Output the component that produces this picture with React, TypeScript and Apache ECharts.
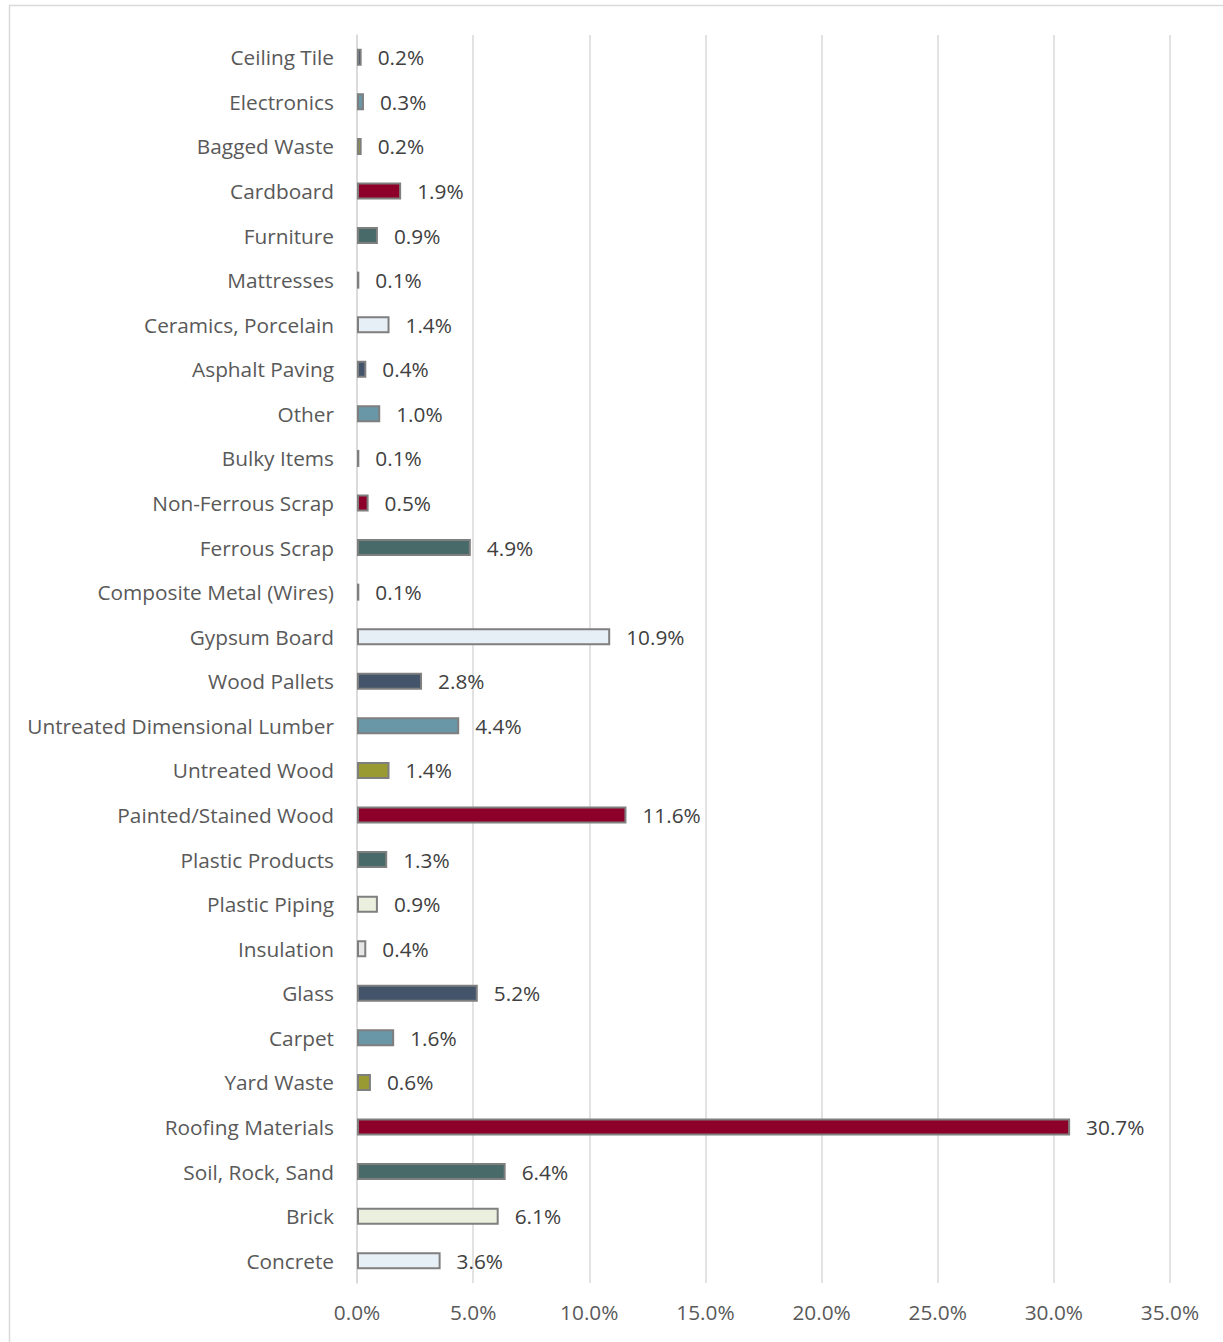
import React, { useEffect, useRef } from "react";
import * as echarts from "echarts";

const categories = [
  "Ceiling Tile",
  "Electronics",
  "Bagged Waste",
  "Cardboard",
  "Furniture",
  "Mattresses",
  "Ceramics, Porcelain",
  "Asphalt Paving",
  "Other",
  "Bulky Items",
  "Non-Ferrous Scrap",
  "Ferrous Scrap",
  "Composite Metal (Wires)",
  "Gypsum Board",
  "Wood Pallets",
  "Untreated Dimensional Lumber",
  "Untreated Wood",
  "Painted/Stained Wood",
  "Plastic Products",
  "Plastic Piping",
  "Insulation",
  "Glass",
  "Carpet",
  "Yard Waste",
  "Roofing Materials",
  "Soil, Rock, Sand",
  "Brick",
  "Concrete",
];

const values = [
  0.2, 0.3, 0.2, 1.9, 0.9, 0.1, 1.4, 0.4, 1.0, 0.1, 0.5, 4.9, 0.1, 10.9, 2.8,
  4.4, 1.4, 11.6, 1.3, 0.9, 0.4, 5.2, 1.6, 0.6, 30.7, 6.4, 6.1, 3.6,
];

const NAVY = "#44546A";
const STEEL = "#6997A8";
const OLIVE = "#9A9A33";
const RED = "#8C0029";
const TEAL = "#486B69";
const CREAM = "#EBF0DE";
const LIGHTBLUE = "#E7EFF6";
const LIGHTGRAY = "#E6E6E6";

const barColors = [
  NAVY, STEEL, OLIVE, RED, TEAL, CREAM, LIGHTBLUE, NAVY, STEEL, OLIVE, RED,
  TEAL, CREAM, LIGHTBLUE, NAVY, STEEL, OLIVE, RED, TEAL, CREAM, LIGHTGRAY,
  NAVY, STEEL, OLIVE, RED, TEAL, CREAM, LIGHTBLUE,
];

const xTicks = { min: 0, max: 35, interval: 5 };

const FONT = "Open Sans";
const FS = 20.8;

export default function App() {
  const ref = useRef<HTMLDivElement>(null);
  useEffect(() => {
    document.body.style.margin = "0";
    if (!ref.current) return;
    const chart = echarts.init(ref.current, null, { renderer: "svg" });
    chart.setOption({
      animation: false,
      backgroundColor: "#FFFFFF",
      textStyle: { fontFamily: FONT },
      graphic: [
        {
          type: "rect",
          shape: { x: 9.5, y: 5.5, width: 1230, height: 1350 },
          style: { fill: "none", stroke: "#D9D9D9", lineWidth: 1.5 },
          silent: true,
        },
      ],
      grid: { left: 357, right: 53, top: 35, bottom: 59 },
      xAxis: {
        type: "value",
        min: xTicks.min,
        max: xTicks.max,
        interval: xTicks.interval,
        axisLine: { show: false },
        axisTick: { show: false },
        splitLine: { show: true, lineStyle: { color: "#D9D9D9", width: 1.5 } },
        axisLabel: {
          color: "#595959",
          fontSize: FS,
          fontFamily: FONT,
          margin: 18,
          formatter: (v: number) => v.toFixed(1) + "%",
        },
      },
      yAxis: {
        type: "category",
        inverse: true,
        data: categories,
        axisLine: { show: true, lineStyle: { color: "#D9D9D9", width: 1.5 } },
        axisTick: { show: false },
        axisLabel: {
          color: "#595959",
          fontSize: FS,
          fontFamily: FONT,
          margin: 23,
        },
      },
      series: [
        {
          type: "bar",
          barWidth: 17,
          data: values.map((v, i) => ({
            value: v,
            itemStyle: {
              color: barColors[i],
              borderColor: "#7F7F7F",
              borderWidth: 2,
            },
          })),
          label: {
            show: true,
            position: "right",
            distance: 16,
            color: "#404040",
            fontSize: FS,
            fontFamily: FONT,
            formatter: (p: any) => Number(p.value).toFixed(1) + "%",
          },
        },
      ],
    });
    return () => chart.dispose();
  }, []);
  return <div ref={ref} style={{ width: 1223, height: 1342 }} />;
}
